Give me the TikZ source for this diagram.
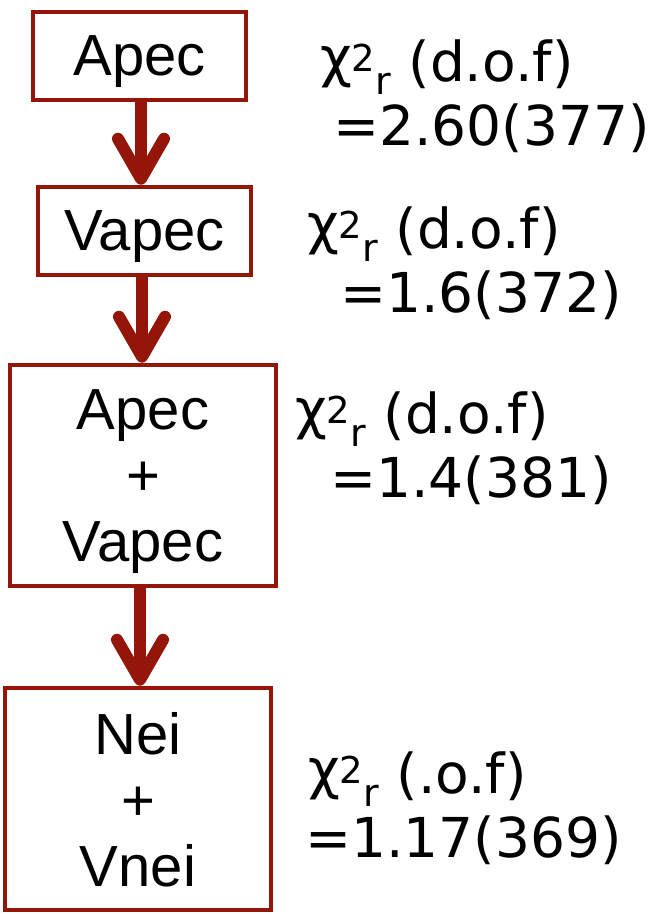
\documentclass[tikz,border=0pt]{standalone}
\usepackage{fontspec}
\setmainfont{Liberation Sans}
\newfontfamily\labelfamily{DejaVu Sans}
\usepackage{tikz}
\usetikzlibrary{arrows.meta}
\definecolor{modelred}{RGB}{147,22,8}
\newcommand{\chired}{\raisebox{5pt}{χ}\raisebox{10pt}{\fontsize{37}{37}\selectfont 2}\raisebox{-13pt}{\fontsize{38}{38}\selectfont r}}

\begin{document}
\begin{tikzpicture}[x=1pt,y=-1pt,
  modelbox/.style={draw=modelred, line width=4.5pt, inner sep=0pt, align=center,
    font=\fontsize{58}{66}\selectfont, text depth=0pt},
  fitlabel/.style={anchor=base west, inner sep=0pt, align=left,
    font=\labelfamily\fontsize{55}{64}\selectfont},
  flowarrow/.style={draw=modelred, line width=12pt,
    -{Straight Barb[length=40pt,width=46pt,round]}}]
\useasboundingbox (0,0) rectangle (663,914);
\node[modelbox, minimum width=213pt, minimum height=88pt] (apec) at (139.5,56) {Apec};
\node[modelbox, minimum width=213pt, minimum height=88pt] (vapec) at (144.5,231) {Vapec};
\node[modelbox, minimum width=266pt, minimum height=221pt] (apecvapec) at (143,475.5) {Apec\\+\\Vapec};
\node[modelbox, minimum width=266pt, minimum height=222pt] (neivnei) at (138,799) {Nei\\+\\Vnei};
\draw[flowarrow] (apec.south -| 141,0) -- (vapec.north -| 141,0);
\draw[flowarrow] (vapec.south -| 142,0) -- (apecvapec.north -| 142,0);
\draw[flowarrow] (apecvapec.south -| 140,0) -- (neivnei.north -| 140,0);
% anchors sit on the baseline of the second line
\node[fitlabel] (fitapec) at (320,145) {\chired{} (d.o.f)\\\hspace*{13pt}=2.60(377)};
\node[fitlabel] (fitvapec) at (307,312) {\chired{} (d.o.f)\\\hspace*{33pt}=1.6(372)};
\node[fitlabel] (fitapecvapec) at (295,497) {\chired{} (d.o.f)\\\hspace*{35pt}=1.4(381)};
\node[fitlabel] (fitneivnei) at (308,857) {\chired{} (.o.f)\\\hspace*{-3pt}=1.17(369)};
\end{tikzpicture}
\end{document}
